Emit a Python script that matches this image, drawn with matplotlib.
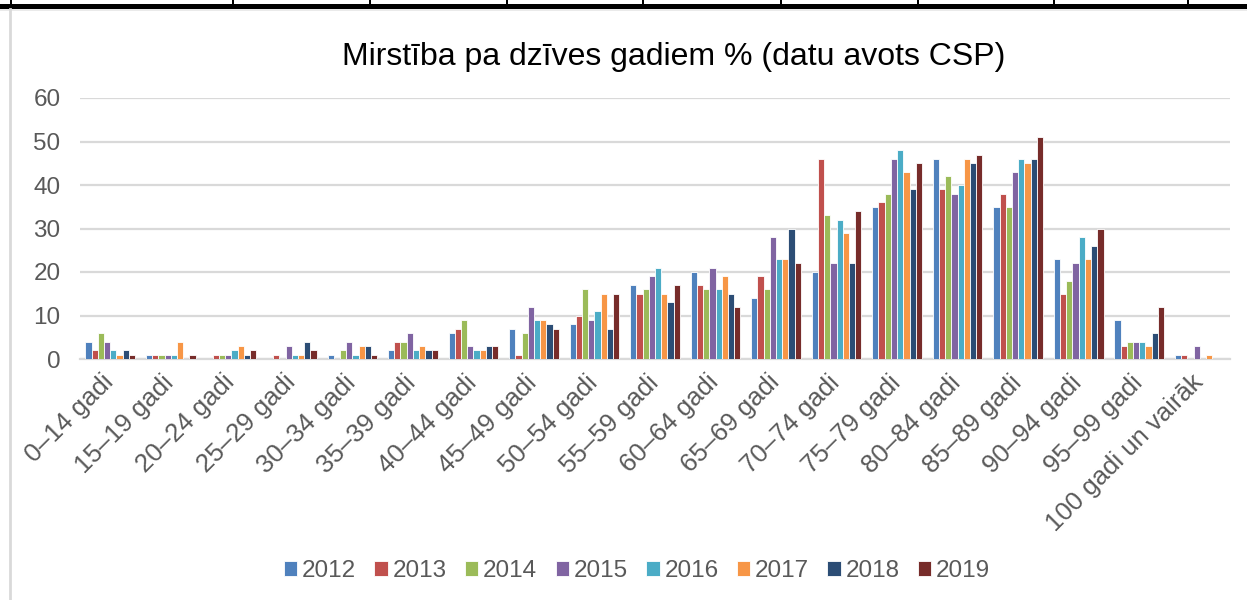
import matplotlib
matplotlib.use("Agg")
import matplotlib.pyplot as plt
import matplotlib.transforms as mtransforms
import numpy as np
from matplotlib.patches import Rectangle
from matplotlib.lines import Line2D

categories = ["0–14 gadi", "15–19 gadi", "20–24 gadi", "25–29 gadi", "30–34 gadi",
              "35–39 gadi", "40–44 gadi", "45–49 gadi", "50–54 gadi", "55–59 gadi",
              "60–64 gadi", "65–69 gadi", "70–74 gadi", "75–79 gadi", "80–84 gadi",
              "85–89 gadi", "90–94 gadi", "95–99 gadi", "100 gadi un vairāk"]
years = ["2012", "2013", "2014", "2015", "2016", "2017", "2018", "2019"]

v2012 = [4, 1, 0, 0, 1, 2, 6, 7, 8, 17, 20, 14, 20, 35, 46, 35, 23, 9, 1]
v2013 = [2, 1, 1, 1, 0, 4, 7, 1, 10, 15, 17, 19, 46, 36, 39, 38, 15, 3, 1]
v2014 = [6, 1, 1, 0, 2, 4, 9, 6, 16, 16, 16, 16, 33, 38, 42, 35, 18, 4, 0]
v2015 = [4, 1, 1, 3, 4, 6, 3, 12, 9, 19, 21, 28, 22, 46, 38, 43, 22, 4, 3]
v2016 = [2, 1, 2, 1, 1, 2, 2, 9, 11, 21, 16, 23, 32, 48, 40, 46, 28, 4, 0]
v2017 = [1, 4, 3, 1, 3, 3, 2, 9, 15, 15, 19, 23, 29, 43, 46, 45, 23, 3, 1]
v2018 = [2, 0, 1, 4, 3, 2, 3, 8, 7, 13, 15, 30, 22, 39, 45, 46, 26, 6, 0]
v2019 = [1, 1, 2, 2, 1, 2, 3, 7, 15, 17, 12, 22, 34, 45, 47, 51, 30, 12, 0]
series = [v2012, v2013, v2014, v2015, v2016, v2017, v2018, v2019]
colors = ["#4F81BD", "#C0504D", "#9BBB59", "#8064A2", "#4BACC6", "#F79646", "#2C4D75", "#772C2A"]

plt.rcParams['font.family'] = ['Liberation Sans', 'DejaVu Sans']
fig = plt.figure(figsize=(12.47, 6.0), dpi=100)
fig.patch.set_facecolor("white")

# decorative frame bits (top black border and left grey line)
fig.add_artist(Rectangle((0, 1 - 9 / 600), 1, 5 / 600, transform=fig.transFigure,
                         facecolor="black", edgecolor="none"))
for xp in [10, 232, 369, 506, 642, 780, 917, 1053, 1187]:
    fig.add_artist(Rectangle((xp / 1247, 1 - 5 / 600), 2 / 1247, 5 / 600,
                             transform=fig.transFigure, facecolor="black", edgecolor="none"))
fig.add_artist(Line2D([0, 1], [1 - 10 / 600, 1 - 10 / 600], transform=fig.transFigure,
                      color="#E6E6E6", linewidth=1.2))
fig.add_artist(Line2D([9.5 / 1247, 9.5 / 1247], [0, 1 - 9 / 600], transform=fig.transFigure,
                      color="#D9D9D9", linewidth=2))

ax = fig.add_axes([80 / 1247, 1 - 359 / 600, 1150 / 1247, (359 - 98) / 600])
n = len(categories)
x = np.arange(n)
group = 0.82
w = group / len(series)
for i, (vals, c, yr) in enumerate(zip(series, colors, years)):
    ax.bar(x - group / 2 + w * (i + 0.5), vals, width=w, color=c, edgecolor="white",
           linewidth=0.6, label=yr, zorder=3)

ax.set_xlim(-0.5, n - 0.5)
ax.set_ylim(0, 60)
ax.set_yticks(range(0, 61, 10))
ax.yaxis.grid(True, color="#D9D9D9", linewidth=1.6, zorder=0)
ax.set_axisbelow(True)
for s in ["top", "right", "left"]:
    ax.spines[s].set_visible(False)
ax.spines["bottom"].set_color("#D9D9D9")
ax.spines["bottom"].set_linewidth(1.6)
ax.tick_params(axis="both", length=0, colors="#595959", labelsize=17.5)
ax.tick_params(axis="y", pad=14)
ax.set_xticks(x)
ax.set_xticklabels(categories, rotation=45, ha="right", rotation_mode="anchor", fontsize=18.5)
ax.tick_params(axis="x", pad=8)
offset = mtransforms.ScaledTranslation(-9 / 100, 0, fig.dpi_scale_trans)
for lbl in ax.get_xticklabels():
    lbl.set_transform(lbl.get_transform() + offset)

fig.text(674 / 1247, 1 - 57 / 600, "Mirstība pa dzīves gadiem % (datu avots CSP)", ha="center",
         va="center", fontsize=23, color="black")

handles, labels = ax.get_legend_handles_labels()
fig.legend(handles, labels, loc="center", bbox_to_anchor=(637 / 1247, 1 - 571 / 600), ncol=8,
           frameon=False, fontsize=17.5, labelcolor="#595959", handlelength=0.55,
           handleheight=0.55, handletextpad=0.2, columnspacing=0.75)

fig.savefig("out.png", dpi=100, facecolor="white")
